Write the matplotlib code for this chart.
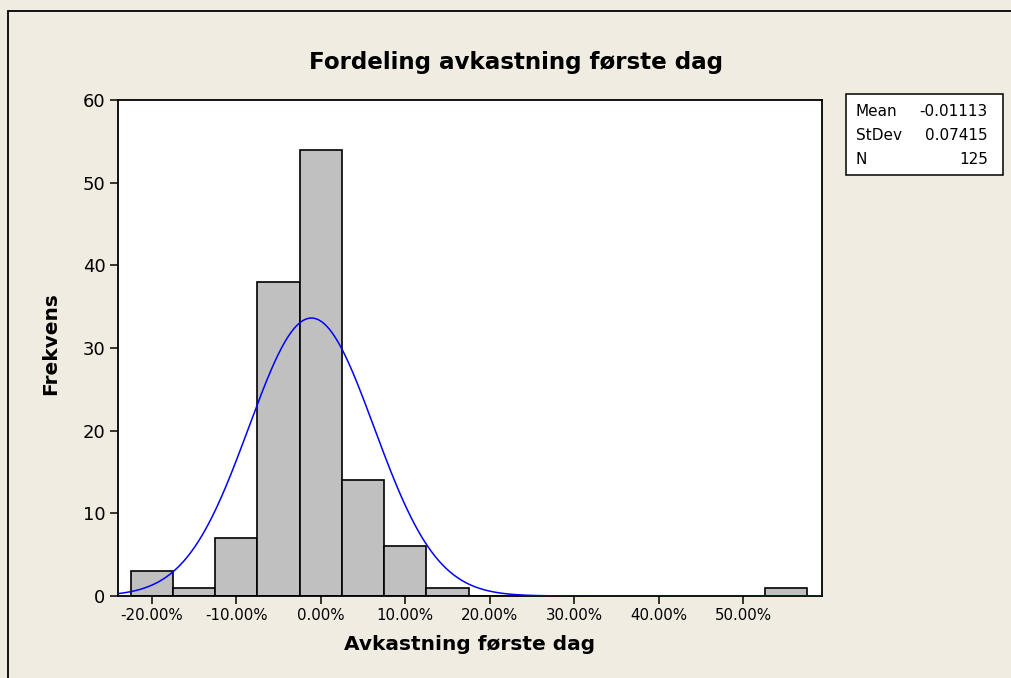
import numpy as np
import matplotlib.pyplot as plt
from matplotlib.patches import Rectangle

# Histogram data (bin centres, counts)
bin_centers = [-0.20, -0.15, -0.10, -0.05, 0.00, 0.05, 0.10, 0.15, 0.20, 0.25,
               0.30, 0.35, 0.40, 0.45, 0.50, 0.55]
counts = [3, 1, 7, 38, 54, 14, 6, 1, 0, 0, 0, 0, 0, 0, 0, 1]
bin_width = 0.05

mean_val = -0.01113
std_val = 0.07415
n_obs = 125

x_ticks = [-0.2, -0.1, 0.0, 0.1, 0.2, 0.3, 0.4, 0.5]
y_ticks = [0, 10, 20, 30, 40, 50, 60]

bg = '#F0ECE2'

fig = plt.figure(figsize=(10.12, 6.78), dpi=100)
fig.patch.set_facecolor(bg)
fig.patches.append(Rectangle((8 / 1012, -0.01), 1.0, 1 - 10.5 / 678 + 0.01,
                             transform=fig.transFigure, facecolor=bg,
                             edgecolor='black', linewidth=1.3, zorder=-1))

ax = fig.add_axes([118 / 1012, 1 - 596 / 678, 704 / 1012, 496 / 678])
ax.set_facecolor('white')

ax.bar(bin_centers, counts, width=bin_width, color='#C0C0C0',
       edgecolor='black', linewidth=1.2, zorder=2)

# Normal fit curve
xs = np.linspace(-0.24, 0.593, 600)
ys = n_obs * bin_width / (std_val * np.sqrt(2 * np.pi)) * np.exp(-0.5 * ((xs - mean_val) / std_val) ** 2)
ax.plot(xs, ys, color='#0000FF', linewidth=1.1, zorder=3)

ax.set_xlim(-0.24, 0.593)
ax.set_ylim(0, 60)
ax.set_xticks(x_ticks)
ax.set_xticklabels([f'{t:.2%}' for t in x_ticks], fontsize=10.8)
ax.set_yticks(y_ticks)
ax.set_yticklabels([str(t) for t in y_ticks], fontsize=13)
ax.tick_params(direction='out', length=6, width=1.1, pad=3)
for s in ax.spines.values():
    s.set_linewidth(1.3)

# Axis labels and title
fig.text(470 / 1012, 1 - 644 / 678, 'Avkastning første dag', ha='center', va='center',
         fontsize=14.5, fontweight='bold')
fig.text(51 / 1012, 1 - 344 / 678, 'Frekvens', ha='center', va='center', rotation=90,
         fontsize=14.5, fontweight='bold')
fig.text(516 / 1012, 1 - 62 / 678, 'Fordeling avkastning første dag', ha='center', va='center',
         fontsize=16.6, fontweight='bold')

# Stats box
fig.patches.append(Rectangle((846 / 1012, 1 - 175 / 678), 157 / 1012, 81 / 678,
                             transform=fig.transFigure, facecolor='white',
                             edgecolor='black', linewidth=1.1))
labels = ['Mean', 'StDev', 'N']
values = [f'{mean_val:.5f}', f'{std_val:.5f}', str(n_obs)]
for i, (lab, val) in enumerate(zip(labels, values)):
    yy = 1 - (111 + i * 24.5) / 678
    fig.text(856 / 1012, yy, lab, ha='left', va='center', fontsize=11)
    fig.text(988 / 1012, yy, val, ha='right', va='center', fontsize=11)

fig.savefig('out.png', dpi=100, facecolor=bg)
